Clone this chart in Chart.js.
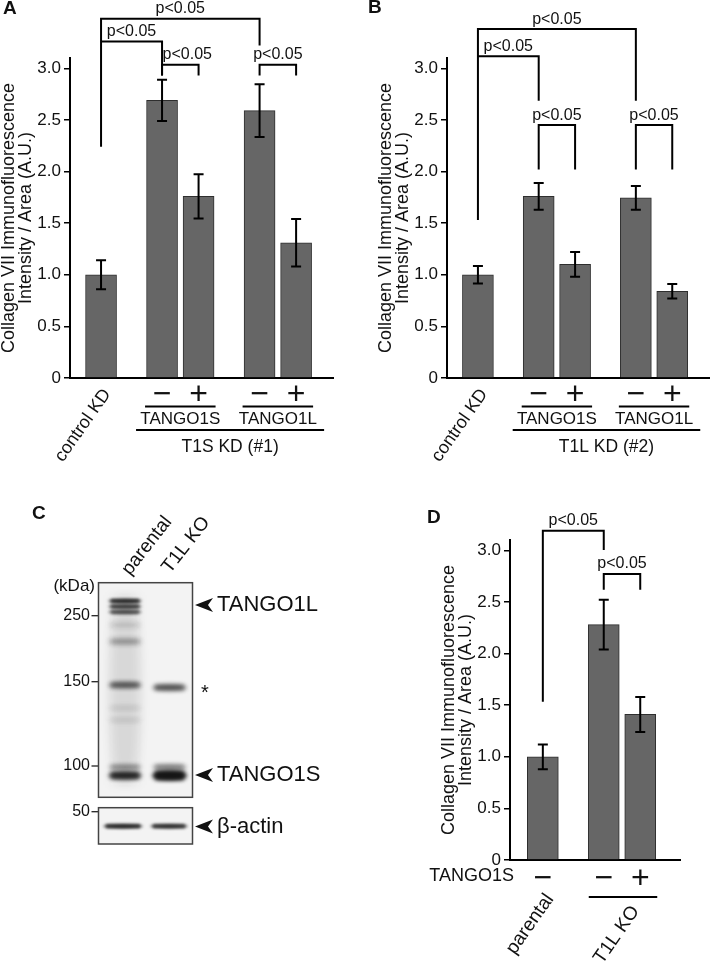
<!DOCTYPE html>
<html>
<head>
<meta charset="utf-8">
<script src="https://cdn.jsdelivr.net/npm/chart.js@4.4.1/dist/chart.umd.min.js"></script>
<style>
  body { margin: 0; background: #fff; }
  #fig { position: relative; width: 710px; height: 965px; overflow: hidden; }
  canvas { position: absolute; }
</style>
</head>
<body>
<div id="fig">
  <canvas id="chartA" width="355" height="480" style="left:0;top:0"></canvas>
  <canvas id="chartB" width="355" height="480" style="left:355px;top:0"></canvas>
  <canvas id="blotC" width="355" height="475" style="left:0;top:490px"></canvas>
  <canvas id="chartD" width="355" height="475" style="left:355px;top:490px"></canvas>
</div>
<script>
// ---- data ----
const yTickLabels = ['0', '0.5', '1.0', '1.5', '2.0', '2.5', '3.0'];
const yTitle = ['Collagen VII Immunofluorescence', 'Intensity / Area (A.U.)'];
const sigLabel = 'p<0.05';

// panel A: T1S KD (#1)
const barLabelsA = ['control KD', '−', '+', '−', '+'];
const barGroupA = [0, 1, 1, 2, 2];
const subgroupsA = ['TANGO1S', 'TANGO1L'];
const conditionA = 'T1S KD (#1)';
const meansA = [1.00, 2.69, 1.76, 2.59, 1.31];
const errA = [0.14, 0.20, 0.215, 0.255, 0.23];

// panel B: T1L KD (#2)
const barLabelsB = ['control KD', '−', '+', '−', '+'];
const barGroupB = [0, 1, 1, 2, 2];
const subgroupsB = ['TANGO1S', 'TANGO1L'];
const conditionB = 'T1L KD (#2)';
const meansB = [1.00, 1.76, 1.10, 1.745, 0.84];
const errB = [0.085, 0.13, 0.12, 0.115, 0.07];

// panel D: parental vs T1L KO
const rescueLabelD = 'TANGO1S';
const barLabelsD = ['−', '−', '+'];
const barGroupD = [0, 1, 1];
const cellLinesD = ['parental', 'T1L KO'];
const meansD = [1.00, 2.28, 1.41];
const errD = [0.12, 0.24, 0.17];

// panel C: western blot labels
const lanesC = ['parental', 'T1L KO'];
const markersC = ['250', '150', '100', '50'];
const bandNamesC = ['TANGO1L', 'TANGO1S', 'β-actin'];

// ---- styles ----
const FONT = '"Liberation Sans", Arial, Helvetica, sans-serif';
const BAR_FILL = '#666666';
const BAR_EDGE = '#2e2e2e';
const GROUP_GAP = 0.67;
Chart.defaults.font.family = FONT;
Chart.defaults.color = '#111';

function text(ctx, s, x, y, o = {}) {
    ctx.save();
    ctx.translate(x, y);
    if (o.rot) ctx.rotate(o.rot);
    ctx.font = `${o.weight || 'normal'} ${o.size || 16}px ${FONT}`;
    ctx.textAlign = o.align || 'center';
    ctx.textBaseline = o.base || 'middle';
    ctx.fillStyle = '#111';
    ctx.fillText(s, 0, 0);
    ctx.restore();
}

function hline(ctx, x1, x2, y) {
    ctx.save();
    ctx.strokeStyle = '#000';
    ctx.lineWidth = 2;
    ctx.beginPath();
    ctx.moveTo(x1, y);
    ctx.lineTo(x2, y);
    ctx.stroke();
    ctx.restore();
}

// big plus / minus signs centred on (x, y)
function sign(ctx, s, x, y) {
    text(ctx, s, x, y + 0.353 * 32, { size: 32, base: 'alphabetic' });
}

function drawErrorBars(chart, errs) {
    const ctx = chart.ctx;
    const y = chart.scales.y;
    const ds = chart.data.datasets[0].data;
    ctx.save();
    ctx.strokeStyle = '#000';
    ctx.lineWidth = 2;
    chart.getDatasetMeta(0).data.forEach((bar, i) => {
        const top = y.getPixelForValue(ds[i].y + errs[i]);
        const bot = y.getPixelForValue(ds[i].y - errs[i]);
        ctx.beginPath();
        ctx.moveTo(bar.x, top); ctx.lineTo(bar.x, bot);
        ctx.moveTo(bar.x - 5, top); ctx.lineTo(bar.x + 5, top);
        ctx.moveTo(bar.x - 5, bot); ctx.lineTo(bar.x + 5, bot);
        ctx.stroke();
    });
    ctx.restore();
}

function drawBrackets(chart, list) {
    const ctx = chart.ctx;
    const y = chart.scales.y;
    const bars = chart.getDatasetMeta(0).data;
    ctx.save();
    ctx.strokeStyle = '#000';
    ctx.lineWidth = 2;
    list.forEach(b => {
        const x1 = bars[b.from].x, x2 = bars[b.to].x, yt = y.getPixelForValue(b.y);
        ctx.beginPath();
        ctx.moveTo(x1, y.getPixelForValue(b.left));
        ctx.lineTo(x1, yt);
        ctx.lineTo(x2, yt);
        ctx.lineTo(x2, y.getPixelForValue(b.right));
        ctx.stroke();
        text(ctx, sigLabel, (x1 + x2) / 2 + (b.dx || 0), yt - 10, { size: 16 });
    });
    ctx.restore();
}

function drawYTitle(chart) {
    const { left, top, bottom } = chart.chartArea;
    const cy = (top + bottom) / 2;
    text(chart.ctx, yTitle[0], left - 61, cy, { size: 18, rot: -Math.PI / 2 });
    text(chart.ctx, yTitle[1], left - 44, cy, { size: 18, rot: -Math.PI / 2 });
}

// labels under A and B: rotated control, signs, subgroup lines, condition
function drawKdAxis(chart, labels, groups, subgroups, condition) {
    const ctx = chart.ctx;
    const bars = chart.getDatasetMeta(0).data;
    const b = chart.chartArea.bottom;
    text(ctx, labels[0], bars[0].x + 6, b + 13, { size: 18, align: 'right', rot: -55 * Math.PI / 180 });
    for (let i = 1; i < labels.length; i++) sign(ctx, labels[i], bars[i].x, b + 15);
    subgroups.forEach((name, k) => {
        const idx = groups.map((g, i) => g === k + 1 ? i : -1).filter(i => i >= 0);
        const x1 = bars[idx[0]].x, x2 = bars[idx[idx.length - 1]].x;
        hline(ctx, x1 - 17, x2 + 17, b + 28.5);
        text(ctx, name, (x1 + x2) / 2, b + 41, { size: 17 });
    });
    const xa = bars[1].x - 26, xb = bars[bars.length - 1].x + 28;
    hline(ctx, xa, xb, b + 52);
    text(ctx, condition, (xa + xb) / 2, b + 69, { size: 17.5 });
}

function barChart(id, cfg) {
    const pos = cfg.groups.map((g, i) => i + g * GROUP_GAP);
    return new Chart(document.getElementById(id), {
        type: 'bar',
        data: {
            datasets: [{
                data: cfg.means.map((v, i) => ({ x: pos[i], y: v })),
                backgroundColor: BAR_FILL,
                borderColor: BAR_EDGE,
                borderWidth: 1,
                barThickness: 31
            }]
        },
        options: {
            responsive: false,
            animation: false,
            layout: { padding: cfg.padding },
            plugins: { legend: { display: false }, tooltip: { enabled: false } },
            scales: {
                x: {
                    type: 'linear',
                    min: cfg.xMin,
                    max: cfg.xMax,
                    bounds: 'data',
                    offset: false,
                    ticks: { display: false },
                    grid: { display: false },
                    border: { color: '#000', width: 2 },
                    afterFit: s => { s.height = 0; }
                },
                y: {
                    min: 0,
                    max: 3.1,
                    bounds: 'data',
                    ticks: {
                        stepSize: 0.5,
                        includeBounds: false,
                        padding: 3,
                        color: '#111',
                        font: { size: 17 },
                        callback: (v, i) => yTickLabels[i]
                    },
                    grid: { drawOnChartArea: false, tickLength: 6, color: '#000', lineWidth: 1.5 },
                    border: { color: '#000', width: 2 },
                    afterFit: s => { s.width = 40; }
                }
            }
        },
        plugins: [{
            id: 'extras',
            afterDatasetsDraw: chart => drawErrorBars(chart, cfg.errs),
            afterDraw: chart => {
                drawYTitle(chart);
                drawBrackets(chart, cfg.brackets);
                cfg.decorate(chart);
            }
        }]
    });
}

// Panel A
barChart('chartA', {
    means: meansA, errs: errA, groups: barGroupA,
    xMin: -0.85, xMax: 6.35,
    padding: { top: 58, bottom: 102, left: 30, right: 22 },
    brackets: [
        { from: 0, to: 3, y: 3.48, left: 2.24, right: 3.22 },
        { from: 0, to: 1, y: 3.26, left: 3.26, right: 2.93 },
        { from: 1, to: 2, y: 3.035, left: 2.93, right: 2.93, dx: 7 },
        { from: 3, to: 4, y: 3.035, left: 2.93, right: 2.93 }
    ],
    decorate: chart => {
        text(chart.ctx, 'A', 3, 9, { size: 19, weight: 'bold', align: 'left' });
        drawKdAxis(chart, barLabelsA, barGroupA, subgroupsA, conditionA);
    }
});

// Panel B
barChart('chartB', {
    means: meansB, errs: errB, groups: barGroupB,
    xMin: -0.85, xMax: 6.35,
    padding: { top: 58, bottom: 102, left: 52, right: 1 },
    brackets: [
        { from: 0, to: 3, y: 3.38, left: 1.53, right: 2.685 },
        { from: 0, to: 1, y: 3.117, left: 3.117, right: 2.685 },
        { from: 1, to: 2, y: 2.45, left: 2.02, right: 2.02 },
        { from: 3, to: 4, y: 2.45, left: 2.02, right: 2.02 }
    ],
    decorate: chart => {
        text(chart.ctx, 'B', 13, 8, { size: 19, weight: 'bold', align: 'left' });
        drawKdAxis(chart, barLabelsB, barGroupB, subgroupsB, conditionB);
    }
});

// Panel D
barChart('chartD', {
    means: meansD, errs: errD, groups: barGroupD,
    xMin: -0.9, xMax: 3.76,
    padding: { top: 50, bottom: 105, left: 115, right: 30 },
    brackets: [
        { from: 0, to: 1, y: 3.19, left: 1.534, right: 3.003 },
        { from: 1, to: 2, y: 2.77, left: 2.617, right: 2.617 }
    ],
    decorate: chart => {
        const ctx = chart.ctx;
        const bars = chart.getDatasetMeta(0).data;
        const b = chart.chartArea.bottom;
        text(ctx, 'D', 72, 28, { size: 19, weight: 'bold', align: 'left' });
        text(ctx, rescueLabelD, chart.chartArea.left + 4, b + 16.4, { size: 18, align: 'right' });
        barLabelsD.forEach((s, i) => sign(ctx, s, bars[i].x, b + 16.4));
        hline(ctx, bars[1].x - 15, bars[2].x + 17, b + 37);
        const rot = -55 * Math.PI / 180;
        text(ctx, cellLinesD[0], bars[0].x + 7, b + 36, { size: 19, align: 'right', rot });
        text(ctx, cellLinesD[1], (bars[1].x + bars[2].x) / 2 + 13.5, b + 48, { size: 19, align: 'right', rot });
    }
});

// Panel C: western blot sketch
function drawBlot() {
    const ctx = document.getElementById('blotC').getContext('2d');
    const box1 = { x: 98.5, y: 92.7, w: 94, h: 214.6 };
    const box2 = { x: 98.5, y: 317.7, w: 94, h: 36.3 };
    const lane1 = [108, 142], lane2 = [152, 187];

    text(ctx, 'C', 32, 24, { size: 19, weight: 'bold', align: 'left' });
    const rot = -52 * Math.PI / 180;
    text(ctx, lanesC[0], 130, 86, { size: 19, align: 'left', base: 'alphabetic', rot });
    text(ctx, lanesC[1], 170, 84, { size: 19, align: 'left', base: 'alphabetic', rot });

    text(ctx, '(kDa)', 95, 96.7, { size: 17, align: 'right' });
    const markerY = [125.7, 191.7, 276, 321.7];
    ctx.strokeStyle = '#222';
    ctx.lineWidth = 1.3;
    markersC.forEach((m, i) => {
        text(ctx, m, 90, markerY[i], { size: 16, align: 'right' });
        ctx.beginPath();
        ctx.moveTo(91.5, markerY[i]);
        ctx.lineTo(98.5, markerY[i]);
        ctx.stroke();
    });

    const drawBox = (bx, bands) => {
        ctx.save();
        ctx.fillStyle = '#f3f3f3';
        ctx.fillRect(bx.x, bx.y, bx.w, bx.h);
        ctx.beginPath();
        ctx.rect(bx.x, bx.y, bx.w, bx.h);
        ctx.clip();
        bands.forEach(([l, y, h, a, blur]) => {
            ctx.filter = `blur(${blur}px)`;
            ctx.fillStyle = `rgba(20,20,20,${a})`;
            ctx.beginPath();
            ctx.ellipse((l[0] + l[1]) / 2, y, (l[1] - l[0]) / 2, h / 2, 0, 0, Math.PI * 2);
            ctx.fill();
            ctx.fillRect(l[0] + 3, y - h / 2, l[1] - l[0] - 6, h);
        });
        ctx.filter = 'none';
        ctx.restore();
        ctx.strokeStyle = '#444';
        ctx.lineWidth = 1.5;
        ctx.strokeRect(bx.x, bx.y, bx.w, bx.h);
    };

    // faint smear down the parental lane, then the bands
    drawBox(box1, [
        [lane1, 200, 190, 0.06, 5],
        [lane1, 111, 4, 0.7, 1.8],
        [lane1, 116.5, 4, 0.6, 1.8],
        [lane1, 122, 4, 0.5, 1.8],
        [lane1, 135, 4, 0.1, 2.5],
        [lane1, 151.5, 5, 0.25, 2.5],
        [lane1, 195, 6, 0.45, 2.2],
        [lane1, 218, 4, 0.07, 2.5],
        [lane1, 230, 4, 0.07, 2.5],
        [lane1, 277, 5, 0.28, 2.2],
        [lane1, 285.5, 7, 0.75, 2],
        [lane2, 197.5, 6, 0.5, 2.2],
        [lane2, 277, 5, 0.35, 2.2],
        [lane2, 285.5, 9, 0.95, 2]
    ]);
    drawBox(box2, [
        [[103, 143], 336.2, 4, 0.75, 1.5],
        [[150, 188], 336.2, 4, 0.7, 1.5]
    ]);

    const arrow = y => {
        ctx.fillStyle = '#111';
        ctx.beginPath();
        ctx.moveTo(195, y);
        ctx.lineTo(213, y - 7);
        ctx.lineTo(208, y);
        ctx.lineTo(213, y + 7);
        ctx.closePath();
        ctx.fill();
    };
    const bandY = [115, 285, 336.5];
    bandNamesC.forEach((n, i) => {
        arrow(bandY[i]);
        text(ctx, n, 217, bandY[i], { size: 22, align: 'left' });
    });
    text(ctx, '*', 205, 203, { size: 20 });
}
drawBlot();
</script>
</body>
</html>
